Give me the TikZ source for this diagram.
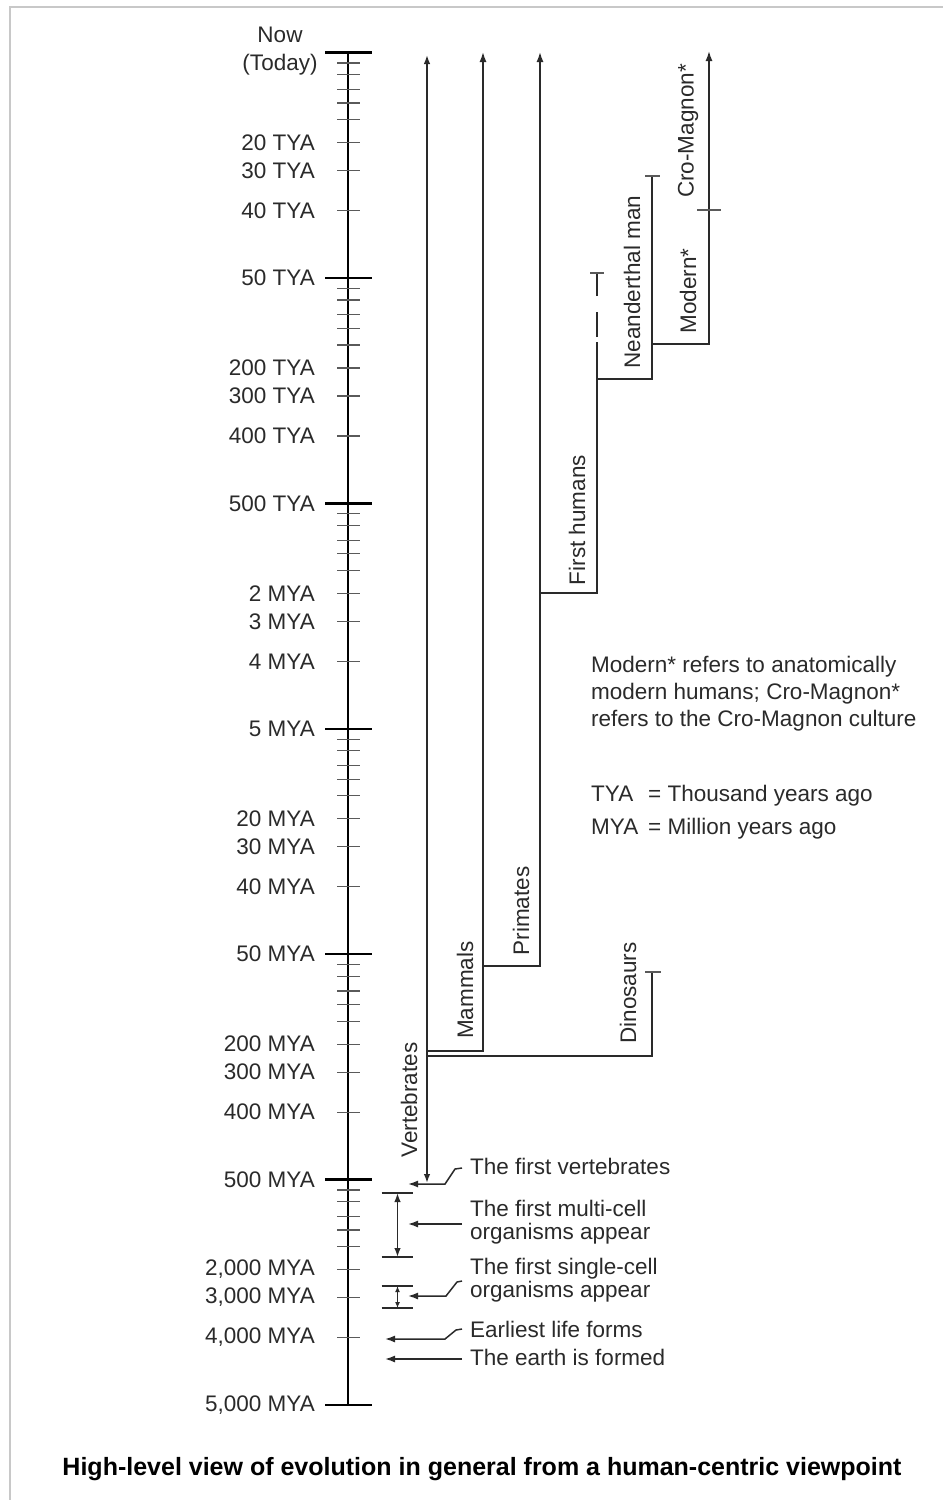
\documentclass[tikz,border=0pt]{standalone}
\usepackage{fontspec}
\setmainfont{Liberation Sans}
\usetikzlibrary{arrows.meta}
\definecolor{ink}{HTML}{2A2A2A}
\definecolor{tickgray}{HTML}{5A5A5A}
\definecolor{framegray}{HTML}{C8C8C8}
\begin{document}
\begin{tikzpicture}[x=1pt,y=-1pt,
  lbl/.style={font=\fontsize{22.5}{27}\selectfont, text=ink, inner sep=0pt},
  axlbl/.style={lbl, anchor=east},
  vlbl/.style={lbl, rotate=90},
  note/.style={lbl, anchor=west, align=left},
  tnote/.style={note, font=\fontsize{22.5}{23}\selectfont},
  axisline/.style={line width=2.4pt, draw=black},
  majortick/.style={line width=2.4pt, draw=black},
  minortick/.style={line width=1.2pt, draw=tickgray},
  branch/.style={line width=1.5pt, draw=ink},
  captick/.style={line width=1.2pt, draw=tickgray},
  uptip/.style={-{Latex[length=10pt,width=7pt]}},
  bothtip/.style={{Latex[length=9pt,width=6.5pt]}-{Latex[length=9pt,width=6.5pt]}},
  lefttip/.style={-{Latex[length=10pt,width=7pt]}},
  bracketcap/.style={line width=1.8pt, draw=ink}
]
\useasboundingbox (0,0) rectangle (943,1500);
% frame
\coordinate (fr1) at (10,1500);
\coordinate (fr2) at (10,7);
\coordinate (fr3) at (943,7);
\draw[framegray, line width=2pt] (fr1) -- (fr2) -- (fr3);

% axis
\coordinate (axtop) at (348,52.5);
\coordinate (axbot) at (348,1405);
\draw[axisline] (axtop) -- (axbot);
\foreach \k in {0,...,6}{
  \pgfmathsetmacro\Y{52.5+225.4*\k}
  \draw[majortick] (325,\Y) -- (372,\Y);
}
\foreach \k in {0,...,5}{
  \foreach \o in {10.5,22,36.8,50.5,67,90,118,158}{
    \pgfmathsetmacro\Y{52.5+225.4*\k+\o}
    \draw[minortick] (337,\Y) -- (360,\Y);
  }
}

% axis labels
\node[lbl, align=center, font=\fontsize{22.5}{28}\selectfont] (now) at (280,51) {Now\\(Today)};
\node[axlbl] (l20t)  at (315,142.5) {20 TYA};
\node[axlbl] (l30t)  at (315,170.5) {30 TYA};
\node[axlbl] (l40t)  at (315,210.5) {40 TYA};
\node[axlbl] (l50t)  at (315,277.9) {50 TYA};
\node[axlbl] (l200t) at (315,367.9) {200 TYA};
\node[axlbl] (l300t) at (315,395.9) {300 TYA};
\node[axlbl] (l400t) at (315,435.9) {400 TYA};
\node[axlbl] (l500t) at (315,503.3) {500 TYA};
\node[axlbl] (l2m)   at (315,593.3) {2 MYA};
\node[axlbl] (l3m)   at (315,621.3) {3 MYA};
\node[axlbl] (l4m)   at (315,661.3) {4 MYA};
\node[axlbl] (l5m)   at (315,728.7) {5 MYA};
\node[axlbl] (l20m)  at (315,818.7) {20 MYA};
\node[axlbl] (l30m)  at (315,846.7) {30 MYA};
\node[axlbl] (l40m)  at (315,886.7) {40 MYA};
\node[axlbl] (l50m)  at (315,954.1) {50 MYA};
\node[axlbl] (l200m) at (315,1044.1) {200 MYA};
\node[axlbl] (l300m) at (315,1072.1) {300 MYA};
\node[axlbl] (l400m) at (315,1112.1) {400 MYA};
\node[axlbl] (l500m) at (315,1179.5) {500 MYA};
\node[axlbl] (l2000m) at (315,1269.5) {2,000 MYA};
\node[axlbl] (l3000m) at (315,1297.5) {3,000 MYA};
\node[axlbl] (l4000m) at (315,1337.5) {4,000 MYA};
\node[axlbl] (l5000m) at (315,1404.9) {5,000 MYA};

% tree coordinates
\coordinate (vtop) at (427,55);
\coordinate (vbot) at (427,1183);
\coordinate (mbase) at (427,1051);
\coordinate (mtop) at (483,52);
\coordinate (dbase) at (427,1056);
\coordinate (dtop) at (652,972);
\coordinate (pbase) at (483,966);
\coordinate (ptop) at (540,52);
\coordinate (fbase) at (540,593);
\coordinate (fmid) at (597,342);
\coordinate (fd1) at (597,337);
\coordinate (fd2) at (597,312);
\coordinate (fd3) at (597,296);
\coordinate (ftop) at (597,273);
\coordinate (nbase) at (597,379);
\coordinate (ntop) at (652,176);
\coordinate (mobase) at (652,344);
\coordinate (motop) at (709,51);

\draw[branch, bothtip] (vtop) -- (vbot);
\draw[branch, uptip] (mbase) -| (mtop);
\draw[branch] (dbase) -| (dtop);
\draw[branch, uptip] (pbase) -| (ptop);
\draw[branch] (fbase) -| (fmid);
\draw[branch] (fd1) -- (fd2);
\draw[branch] (fd3) -- (ftop);
\draw[branch] (nbase) -| (ntop);
\draw[branch, uptip] (mobase) -| (motop);

% caps
\draw[captick] ([xshift=-7pt]dtop) -- ([xshift=9pt]dtop);
\draw[captick] ([xshift=-7pt]ntop) -- ([xshift=8pt]ntop);
\draw[captick] ([xshift=-7pt]ftop) -- ([xshift=7pt]ftop);
\coordinate (cro) at (709,210);
\draw[captick] ([xshift=-12pt]cro) -- ([xshift=12pt]cro);

% rotated labels
\node[vlbl] (vert) at (409,1100) {Vertebrates};
\node[vlbl] (mamm) at (465,990) {Mammals};
\node[vlbl] (prim) at (521,911) {Primates};
\node[vlbl] (fhum) at (577,520) {First humans};
\node[vlbl] (nean) at (632,282) {Neanderthal man};
\node[vlbl] (mode) at (688,291) {Modern*};
\node[vlbl] (crom) at (688,131) {Cro-Magnon*};
\node[vlbl] (dino) at (628,993) {Dinosaurs};

% explanatory notes
\node[note] (n1) at (591,667) {Modern* refers to anatomically};
\node[note] (n2) at (591,694) {modern humans; Cro-Magnon*};
\node[note] (n3) at (591,721) {refers to the Cro-Magnon culture};
\node[note] (tya) at (591,796) {\makebox[57pt][l]{TYA}= Thousand years ago};
\node[note] (mya) at (591,829) {\makebox[57pt][l]{MYA}= Million years ago};

% bottom annotations
\node[note] (fv) at (470,1166) {The first vertebrates};
\node[tnote] (mc) at (470,1222) {The first multi-cell\\organisms appear};
\node[tnote] (sc) at (470,1280) {The first single-cell\\organisms appear};
\node[note] (el) at (470,1329) {Earliest life forms};
\node[note] (ef) at (470,1357) {The earth is formed};

% leaders
\coordinate (fvtip) at (408,1184);
\coordinate (fvh) at (462,1168);
\draw[branch, lefttip] (fvh) -- (455,1169) -- (445,1184) -- (fvtip);

\coordinate (mccap1) at (397.5,1193);
\coordinate (mccap2) at (397.5,1257);
\draw[bracketcap] ([xshift=-16pt]mccap1) -- ([xshift=15pt]mccap1);
\draw[bracketcap] ([xshift=-16pt]mccap2) -- ([xshift=15pt]mccap2);
\draw[branch, bothtip] (mccap1) -- (mccap2);
\coordinate (mctip) at (408,1224);
\coordinate (mcstart) at (462,1224);
\draw[branch, lefttip] (mcstart) -- (mctip);

\coordinate (sccap1) at (397.5,1286);
\coordinate (sccap2) at (397.5,1308);
\draw[bracketcap] ([xshift=-16pt]sccap1) -- ([xshift=15pt]sccap1);
\draw[bracketcap] ([xshift=-16pt]sccap2) -- ([xshift=15pt]sccap2);
\draw[branch, {Latex[length=6pt,width=5pt]}-{Latex[length=6pt,width=5pt]}] (sccap1) -- (sccap2);
\coordinate (sctip) at (408,1296);
\coordinate (sch) at (462,1281);
\draw[branch, lefttip] (sch) -- (457,1282) -- (446,1296) -- (sctip);

\coordinate (eltip) at (385,1339);
\coordinate (elh) at (462,1329);
\draw[branch, lefttip] (elh) -- (456,1330) -- (445,1339) -- (eltip);

\coordinate (eftip) at (385,1359);
\coordinate (efstart) at (462,1359);
\draw[branch, lefttip] (efstart) -- (eftip);

% title
\node[lbl, font=\bfseries\fontsize{25}{30}\selectfont, text=black] (title) at (482,1469) {High-level view of evolution in general from a human-centric viewpoint};
\end{tikzpicture}
\end{document}
